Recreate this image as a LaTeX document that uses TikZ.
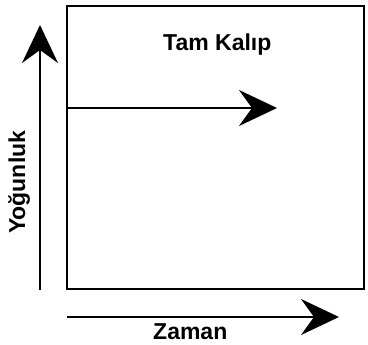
\documentclass[tikz,border=0pt]{standalone}
\usepackage{fontspec}
\setmainfont{Liberation Sans}
\usetikzlibrary{arrows.meta}
\begin{document}
\begin{tikzpicture}[x=1pt,y=-1pt,
  lbl/.style={font=\fontsize{23}{27}\selectfont\bfseries, inner sep=0pt},
  frame/.style={line width=2.4pt, draw=black},
  axis/.style={line width=2pt, draw=black, -{Stealth[length=38pt,width=36pt,inset=13pt]}}]
\useasboundingbox (0,0) rectangle (368,345);
\draw[frame] (67,6) rectangle (364,289);
\coordinate (ml) at (67,108);
\coordinate (mr) at (277,108);
\coordinate (vb) at (40,290);
\coordinate (vt) at (40,25);
\coordinate (hl) at (67,317);
\coordinate (hr) at (339,317);
\draw[axis] (ml) -- (mr);
\draw[axis] (vb) -- (vt);
\draw[axis] (hl) -- (hr);
\node[lbl, anchor=base west] (tk) at (163,51) {Tam Kalıp};
\node[lbl, anchor=base west] (zm) at (153,340) {Zaman};
\node[lbl, anchor=base west, rotate=90] (yg) at (25,234) {Yoğunluk};
\end{tikzpicture}
\end{document}
